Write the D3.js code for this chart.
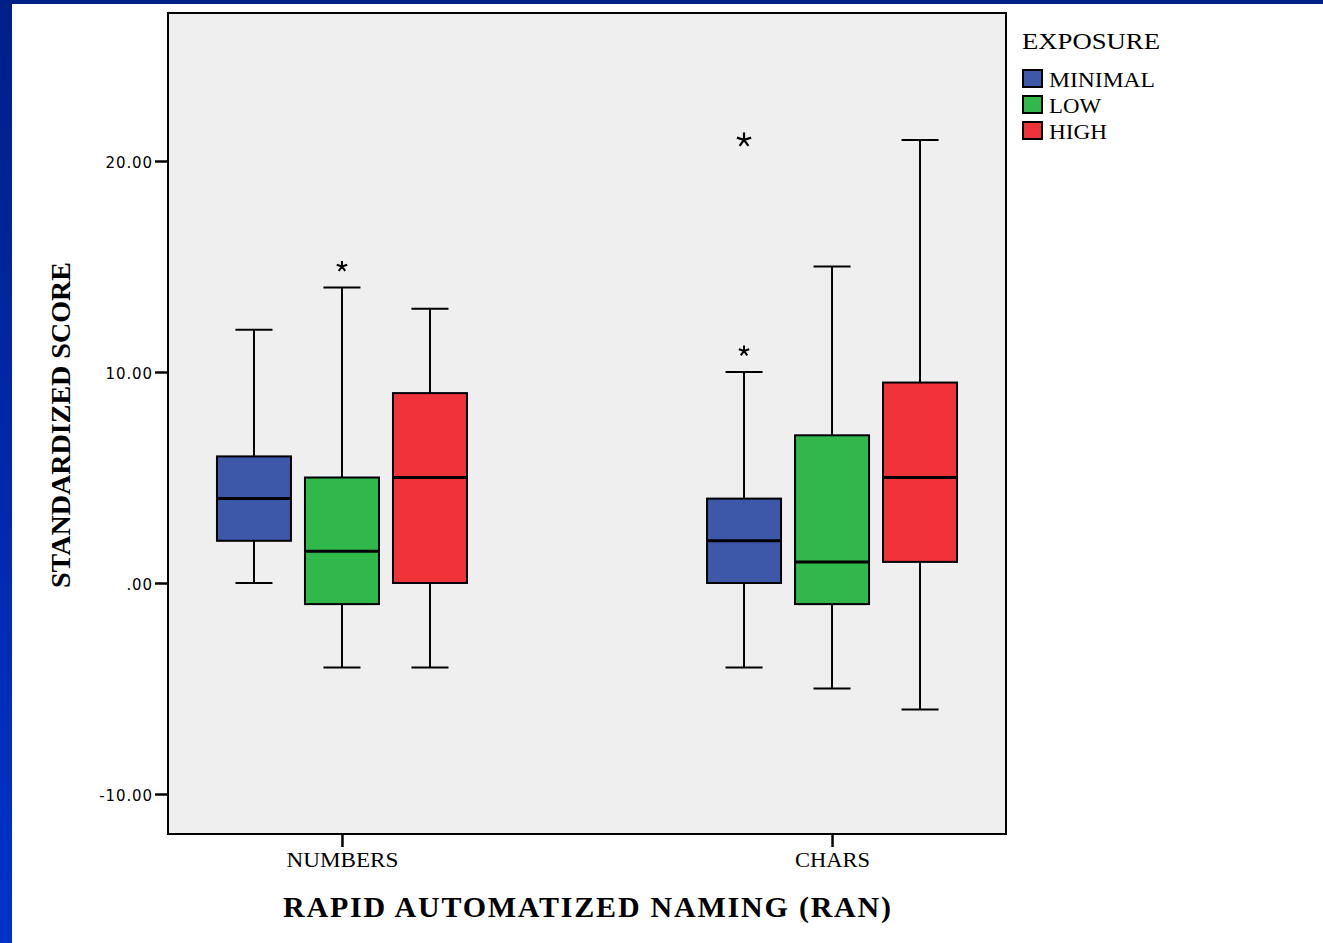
<!DOCTYPE html>
<html>
<head>
<meta charset="utf-8">
<script src="https://cdn.jsdelivr.net/npm/d3@7"></script>
<style>
  html, body { margin: 0; padding: 0; background: #ffffff; }
  svg { display: block; }
</style>
</head>
<body>
<svg id="chart" width="1323" height="943"></svg>
<script>
// ---- data ----
const categories = ["NUMBERS", "CHARS"];
const series = ["MINIMAL", "LOW", "HIGH"];
const seriesColors = ["#3d57a9", "#30b84a", "#f0323a"];
// stats indexed [category][series]
const whiskerLow  = [[0, -4, -4], [-4, -5, -6]];
const quartile1   = [[2, -1, 0], [0, -1, 1]];
const medians     = [[4, 1.5, 5], [2, 1, 5]];
const quartile3   = [[6, 5, 9], [4, 7, 9.5]];
const whiskerHigh = [[12, 14, 13], [10, 15, 21]];
const outlierCategory = ["NUMBERS", "CHARS", "CHARS"];
const outlierSeries   = ["LOW", "MINIMAL", "MINIMAL"];
const outlierValues   = [15, 11, 21];
const outlierLarge    = [false, false, true];
const yTickValues = [-10, 0, 10, 20];
const yTickLabels = ["-10.00", ".00", "10.00", "20.00"];

// ---- layout ----
const svg = d3.select("#chart");
const frame = {x0: 168, x1: 1006, y0: 13, y1: 834};

// background decorations
const defs = svg.append("defs");
const grad = defs.append("linearGradient").attr("id", "sidebar")
  .attr("x1", 0).attr("y1", 0).attr("x2", 0).attr("y2", 1);
grad.append("stop").attr("offset", "0%").attr("stop-color", "#001f88");
grad.append("stop").attr("offset", "100%").attr("stop-color", "#0032cc");
svg.append("rect").attr("x", 0).attr("y", 0).attr("width", 1323).attr("height", 4).attr("fill", "#002088");
svg.append("rect").attr("x", 0).attr("y", 0).attr("width", 12).attr("height", 943).attr("fill", "url(#sidebar)");

// scales
const y = d3.scaleLinear().domain([-10, 20]).range([794, 161]);
const x = d3.scalePoint().domain(categories).range([frame.x0, frame.x1]).padding(0.355);
const xs = d3.scalePoint().domain(series).range([-88, 88]);
const boxW = 74, capW = 37;
const color = d3.scaleOrdinal().domain(series).range(seriesColors);

// plot frame
svg.append("rect")
  .attr("x", frame.x0).attr("y", frame.y0)
  .attr("width", frame.x1 - frame.x0).attr("height", frame.y1 - frame.y0)
  .attr("fill", "#efefef").attr("stroke", "#000").attr("stroke-width", 2);

// axes
const yAxis = svg.append("g")
  .attr("transform", `translate(${frame.x0},0)`)
  .call(d3.axisLeft(y).tickValues(yTickValues)
    .tickFormat(d => yTickLabels[yTickValues.indexOf(d)])
    .tickSize(13).tickPadding(2));
yAxis.select(".domain").remove();
yAxis.selectAll(".tick line").attr("stroke", "#000").attr("stroke-width", 2.5);
yAxis.selectAll(".tick text")
  .attr("font-family", "DejaVu Sans, Verdana, sans-serif")
  .attr("font-size", 15).attr("fill", "#000")
  .attr("letter-spacing", 0.9)
  .attr("dy", "0.45em");

const xLabelLens = [112, 75];
const xAxis = svg.append("g")
  .attr("transform", `translate(0,${frame.y1})`)
  .call(d3.axisBottom(x).tickSize(13).tickPadding(6));
xAxis.select(".domain").remove();
xAxis.selectAll(".tick line").attr("stroke", "#000").attr("stroke-width", 2.5);
xAxis.selectAll(".tick text")
  .attr("font-family", "Liberation Serif, Times New Roman, serif")
  .attr("font-size", 20).attr("fill", "#000")
  .attr("textLength", (d, i) => xLabelLens[i]).attr("lengthAdjust", "spacingAndGlyphs");

// boxes
const boxes = [];
categories.forEach((c, ci) => series.forEach((s, si) => {
  boxes.push({c, s, lo: whiskerLow[ci][si], q1: quartile1[ci][si], med: medians[ci][si],
              q3: quartile3[ci][si], hi: whiskerHigh[ci][si]});
}));
const g = svg.append("g");
const bg = g.selectAll("g.box").data(boxes).join("g")
  .attr("transform", d => `translate(${x(d.c) + xs(d.s)},0)`);
bg.append("line").attr("x1", 0).attr("x2", 0)
  .attr("y1", d => y(d.hi)).attr("y2", d => y(d.q3))
  .attr("stroke", "#000").attr("stroke-width", 2);
bg.append("line").attr("x1", 0).attr("x2", 0)
  .attr("y1", d => y(d.q1)).attr("y2", d => y(d.lo))
  .attr("stroke", "#000").attr("stroke-width", 2);
bg.append("line").attr("x1", -capW / 2).attr("x2", capW / 2)
  .attr("y1", d => y(d.hi)).attr("y2", d => y(d.hi))
  .attr("stroke", "#000").attr("stroke-width", 2);
bg.append("line").attr("x1", -capW / 2).attr("x2", capW / 2)
  .attr("y1", d => y(d.lo)).attr("y2", d => y(d.lo))
  .attr("stroke", "#000").attr("stroke-width", 2);
bg.append("rect").attr("x", -boxW / 2).attr("width", boxW)
  .attr("y", d => y(d.q3)).attr("height", d => y(d.q1) - y(d.q3))
  .attr("fill", d => color(d.s)).attr("stroke", "#000").attr("stroke-width", 2);
bg.append("line").attr("x1", -boxW / 2).attr("x2", boxW / 2)
  .attr("y1", d => y(d.med)).attr("y2", d => y(d.med))
  .attr("stroke", "#000").attr("stroke-width", 3);

// outliers (asterisks)
const outliers = outlierValues.map((v, i) => ({c: outlierCategory[i], s: outlierSeries[i], v, large: outlierLarge[i]}));
function asterisk(r) {
  let p = "";
  for (let k = 0; k < 5; k++) {
    const a = -Math.PI / 2 + k * 2 * Math.PI / 5;
    p += `M0,0L${(r * Math.cos(a)).toFixed(2)},${(r * Math.sin(a)).toFixed(2)}`;
  }
  return p;
}
g.selectAll("path.out").data(outliers).join("path")
  .attr("transform", d => `translate(${x(d.c) + xs(d.s)},${y(d.v)})`)
  .attr("d", d => asterisk(d.large ? 7.5 : 5.5))
  .attr("stroke", "#000").attr("stroke-width", d => d.large ? 2.2 : 2)
  .attr("fill", "none");

// axis titles
svg.append("text")
  .attr("x", 587).attr("y", 917).attr("text-anchor", "middle")
  .attr("font-family", "Liberation Serif, Times New Roman, serif")
  .attr("font-weight", "bold").attr("font-size", 30)
  .attr("textLength", 608).attr("lengthAdjust", "spacing")
  .text("RAPID AUTOMATIZED NAMING (RAN)");
svg.append("text")
  .attr("transform", "translate(70,425) rotate(-90)")
  .attr("text-anchor", "middle")
  .attr("font-family", "Liberation Serif, Times New Roman, serif")
  .attr("font-weight", "bold").attr("font-size", 27)
  .attr("textLength", 326).attr("lengthAdjust", "spacingAndGlyphs")
  .text("STANDARDIZED SCORE");

// legend
const leg = svg.append("g");
leg.append("text").attr("x", 1022).attr("y", 49)
  .attr("font-family", "Liberation Serif, Times New Roman, serif")
  .attr("font-size", 23).attr("textLength", 138).attr("lengthAdjust", "spacingAndGlyphs")
  .text("EXPOSURE");
const legLens = [106, 52, 58];
const li = leg.selectAll("g.item").data(series).join("g")
  .attr("transform", (d, i) => `translate(1022,${69 + i * 26})`);
li.append("rect").attr("x", 1).attr("y", 1).attr("width", 19).attr("height", 17)
  .attr("fill", d => color(d)).attr("stroke", "#000").attr("stroke-width", 2);
li.append("text").attr("x", 27).attr("y", 18)
  .attr("font-family", "Liberation Serif, Times New Roman, serif")
  .attr("font-size", 21)
  .attr("textLength", (d, i) => legLens[i]).attr("lengthAdjust", "spacingAndGlyphs")
  .text(d => d);
</script>
</body>
</html>
